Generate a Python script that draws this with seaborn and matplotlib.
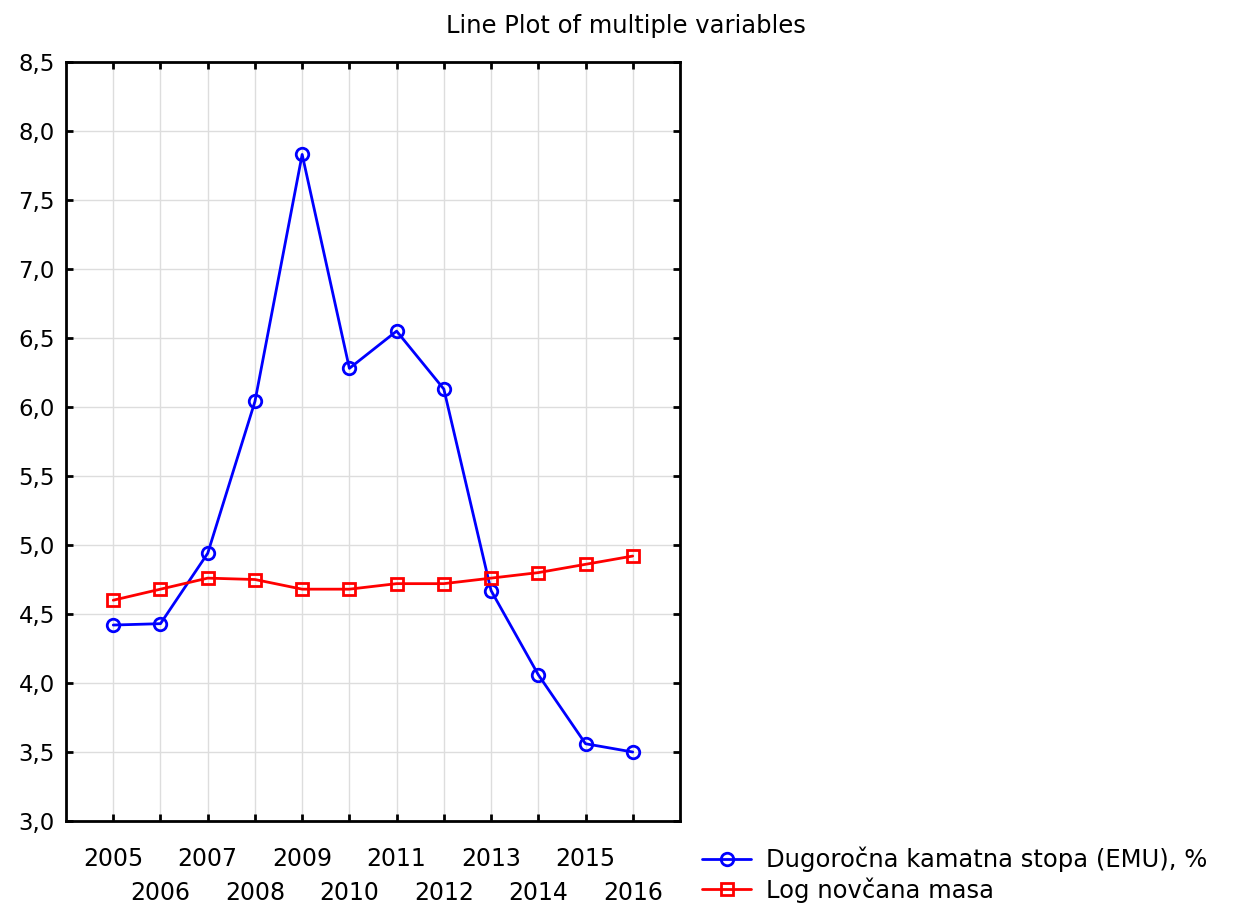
import numpy as np
import pandas as pd
import matplotlib
matplotlib.use("Agg")
import matplotlib.pyplot as plt
import seaborn as sns

# podaci ocitani s grafa
years = [2005, 2006, 2007, 2008, 2009, 2010, 2011, 2012, 2013, 2014, 2015, 2016]
kamatna = [4.42, 4.43, 4.94, 6.04, 7.83, 6.28, 6.55, 6.13, 4.67, 4.06, 3.56, 3.50]
log_masa = [4.60, 4.68, 4.76, 4.75, 4.68, 4.68, 4.72, 4.72, 4.76, 4.80, 4.86, 4.92]
series_names = ["Dugoročna kamatna stopa (EMU), %", "Log novčana masa"]
y_ticks = [3.0, 3.5, 4.0, 4.5, 5.0, 5.5, 6.0, 6.5, 7.0, 7.5, 8.0, 8.5]

sns.set_style("white")
plt.rcParams["font.family"] = ["DejaVu Sans"]
plt.rcParams["text.color"] = "black"
plt.rcParams["xtick.color"] = "black"
plt.rcParams["ytick.color"] = "black"

fig = plt.figure(figsize=(12.39, 9.05), dpi=100)
ax = fig.add_axes([0.0533, 0.0928, 0.4955, 0.8387])

for vals, name, col, mk in [(kamatna, series_names[0], "#0000ff", "o"),
                            (log_masa, series_names[1], "#ff0000", "s")]:
    sns.lineplot(x=years, y=vals, ax=ax, color=col, lw=2, label=name,
                 marker=mk, markersize=9, mfc="none", mec=col, mew=2)

ax.set_xlim(2004, 2017)
ax.set_ylim(3.0, 8.5)
# godine u dva reda: neparni indeksi kao minor tickovi s vecim razmakom
row1 = years[0::2]
row2 = years[1::2]
ax.set_xticks(row1)
ax.set_xticklabels([str(y) for y in row1], fontsize=17)
ax.set_xticks(row2, minor=True)
ax.set_xticklabels([str(y) for y in row2], minor=True, fontsize=17)
ax.set_yticks(y_ticks)
ax.set_yticklabels([f"{v:.1f}".replace(".", ",") for v in y_ticks], fontsize=16.5)
ax.set_xlabel("")
ax.set_ylabel("")
ax.grid(True, which="both", color="#dddddd", lw=1)
ax.tick_params(which="both", direction="in", length=5, width=2, top=True, right=True,
               bottom=True, left=True, pad=8)
ax.tick_params(axis="x", which="major", pad=19)
ax.tick_params(axis="x", which="minor", pad=43)
for s in ax.spines.values():
    s.set_linewidth(2)
    s.set_color("black")

fig.suptitle("Line Plot of multiple variables", x=0.505, y=0.985, fontsize=17.5)

handles, labels = ax.get_legend_handles_labels()
ax.legend(handles, labels, loc="lower left", bbox_to_anchor=(0.559, -0.008),
          bbox_transform=fig.transFigure, frameon=False, fontsize=17.5,
          handlelength=2.0, handletextpad=0.6, labelspacing=0.2, borderaxespad=0)

fig.savefig("out.png", dpi=100)
